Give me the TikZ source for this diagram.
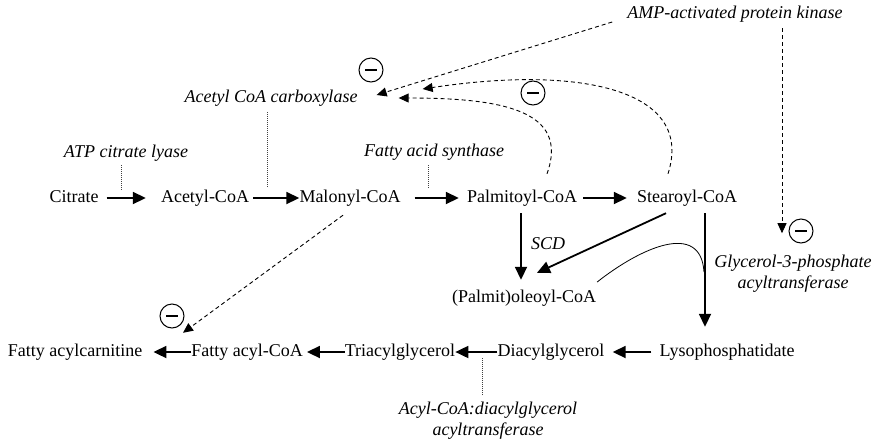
\documentclass[tikz,border=0pt]{standalone}
\usepackage{fontspec}
\setmainfont{Liberation Serif}
\usetikzlibrary{arrows.meta,calc}
\begin{document}
\begin{tikzpicture}[x=1pt,y=-1pt,
 every node/.style={font=\fontsize{18}{21}\selectfont, inner sep=0pt},
 chem/.style={text height=12.5pt, text depth=3.5pt},
 enz/.style={font=\fontsize{18}{21}\selectfont\itshape},
 main/.style={line width=1.8pt, -{Triangle[length=13pt,width=12pt]}},
 inhib/.style={line width=0.9pt, dash pattern=on 4pt off 3pt, -{Triangle[length=10pt,width=9pt]}},
 tickline/.style={line width=0.6pt, dash pattern=on 1pt off 1pt, black!75},
 hook/.style={line width=0.8pt},
 minus/.style={circle, draw, line width=1pt, minimum size=24pt,
   path picture={\draw[line width=1.4pt] ([xshift=-6pt]path picture bounding box.center) -- ([xshift=6pt]path picture bounding box.center);}},
]
\useasboundingbox (0,0) rectangle (876,445);

% metabolites
\node[chem] (cit) at (74,198) {Citrate};
\node[chem] (acet) at (205,198) {Acetyl-CoA};
\node[chem] (mal) at (350,198) {Malonyl-CoA};
\node[chem] (palm) at (522,198) {Palmitoyl-CoA};
\node[chem] (stear) at (687,198) {Stearoyl-CoA};
\node[chem] (pole) at (524,298) {(Palmit)oleoyl-CoA};
\node[chem] (lyso) at (727,352) {Lysophosphatidate};
\node[chem] (dag) at (551,352) {Diacylglycerol};
\node[chem] (tag) at (400,352) {Triacylglycerol};
\node[chem] (fac) at (247,352) {Fatty acyl-CoA};
\node[chem] (fcar) at (75,352) {Fatty acylcarnitine};

% enzymes
\node[enz,chem] (acl) at (126,153) {ATP citrate lyase};
\node[enz,chem] (acc) at (271,98) {Acetyl CoA carboxylase};
\node[enz,chem] (fas) at (434,152) {Fatty acid synthase};
\node[enz,chem] (ampk) at (735,14) {AMP-activated protein kinase};
\node[enz,chem] (scd) at (548,245) {SCD};
\node[enz,align=center] (gpat) at (793,274) {Glycerol-3-phosphate\\acyltransferase};
\node[enz,align=center] (dgat) at (488,421) {Acyl-CoA:diacylglycerol\\acyltransferase};

% inhibition marks
\node[minus] (m1) at (371,70) {};
\node[minus] (m2) at (533,93) {};
\node[minus] (m3) at (801,231) {};
\node[minus] (m4) at (172,316) {};

% top row
\draw[main] ([xshift=8pt]cit.east) -- ([xshift=-15pt]acet.west);
\draw[main] ([xshift=4pt]acet.east) -- (mal.west);
\draw[main] ([xshift=14pt]mal.east) -- ([xshift=-8pt]palm.west);
\draw[main] ([xshift=6pt]palm.east) -- ([xshift=-10pt]stear.west);

% verticals
\coordinate (px) at ([xshift=-1pt,yshift=-7pt]palm.south);
\coordinate (pe) at ([yshift=10pt]pole.north);
\draw[main] (px) -- (px |- pe);
\draw[main] ([xshift=-21pt,yshift=-7pt]stear.south) -- ([xshift=13pt,yshift=17pt]pole.north);
\coordinate (sx) at ([xshift=18pt,yshift=-7pt]stear.south);
\coordinate (ly) at ([yshift=17pt]lyso.north);
\draw[main] (sx) -- (sx |- ly);

% hook
\coordinate (hs) at ($(pole.east)+(1,-16)$);
\coordinate (hk) at ($(sx)+(-1,59)$);
\draw[hook] (hs) .. controls ($(hs)+(43,-34)$) and ($(hk)+(-3,-52)$) .. (hk);

% bottom row
\draw[main] ([xshift=-8pt]lyso.west) -- ([xshift=8pt]dag.east);
\draw[main] (dag.west) -- (tag.east);
\draw[main] (tag.west) -- ([xshift=4pt]fac.east);
\draw[main] (fac.west) -- ([xshift=11pt]fcar.east);

% enzyme ticks
\draw[tickline] ($(acl.south)+(-5,4)$) -- ++(0,25);
\draw[tickline] ($(acc.south)+(-4,6)$) -- ++(0,76);
\draw[tickline] ($(fas.south)+(-6,5)$) -- ++(0,23);
\draw[tickline] ($(dgat.north)+(-6,-7)$) -- ++(0,-37);

% inhibitory dashed arrows
\draw[inhib] ($(ampk.west)+(-15,8)$) -- ($(acc.east)+(19,-3)$);
\draw[inhib] ($(palm.north)+(25,-16)$) .. controls ($(palm.north)+(48,-80)$) and ($(acc.east)+(143,0)$) .. ($(acc.east)+(41,0)$);
\draw[inhib] ($(stear.north)+(-19,-16)$) .. controls ($(stear.north)+(8,-100)$) and ($(acc.east)+(223,-33)$) .. ($(acc.east)+(65,-9)$);
\coordinate (av) at ($(ampk.south)+(47,6)$);
\draw[inhib] (av) -- ($(av)+(0,205)$);
\draw[inhib] ($(mal.south)+(-7,9)$) -- ($(fac.north)+(-64,-11)$);
\end{tikzpicture}
\end{document}
